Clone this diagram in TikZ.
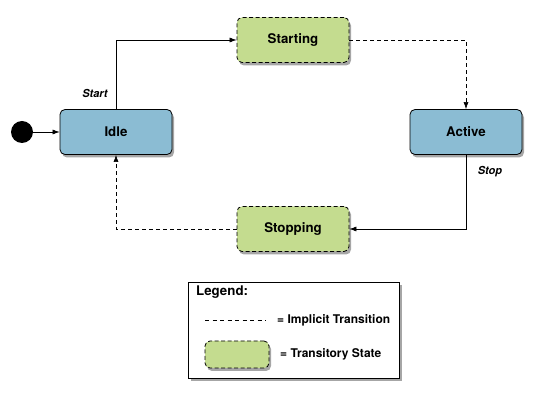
\documentclass[tikz,border=0pt]{standalone}
\usepackage{fontspec}
\setmainfont{TeX Gyre Heros}
\usepackage{tikz}
\usetikzlibrary{arrows.meta}
\usetikzlibrary{shadows}
\definecolor{stateblue}{HTML}{8BBCD3}
\definecolor{transgreen}{HTML}{C4DC8F}

\begin{document}
\begin{tikzpicture}[x=1pt,y=-1pt,
        shade/.style={drop shadow={shadow xshift=2pt,shadow yshift=-3pt,opacity=0.35,fill=black}},
        state/.style={draw,line width=0.8pt,rounded corners=5pt,fill=stateblue,shade,
            minimum width=112pt,minimum height=45pt,font=\fontsize{13.3}{15}\selectfont\bfseries},
        transitory/.style={state,fill=transgreen,dash pattern=on 4pt off 2.5pt},
        trans/.style={line width=0.6pt,-{Latex[length=7pt,width=5pt]}},
        implicit/.style={trans,dash pattern=on 4pt off 3pt},
        lbl/.style={font=\fontsize{11}{13}\selectfont\bfseries\itshape},
        legtext/.style={anchor=west,inner sep=0pt,font=\fontsize{12}{14}\selectfont\bfseries}]
        \useasboundingbox (0,0) rectangle (542,403);

        % states
        \fill (22,132) circle (11) coordinate (init);
        \node[state] (idle) at (116,132) {Idle};
        \node[transitory] (starting) at (293,40) {Starting};
        \node[state] (active) at (466,132) {Active};
        \node[transitory] (stopping) at (293,229) {Stopping};

        % transitions
        \draw[trans] (init) ++(11,0) coordinate (initr) -- (idle.west);
        \draw[trans] (idle.north) |- (starting.west);
        \draw[implicit] (starting.east) -| (active.north);
        \draw[trans] (active.south) |- (stopping.east);
        \draw[implicit] (stopping.west) -| (idle.south);
        \node[lbl] (startlbl) at (95,93) {Start};
        \node[lbl] (stoplbl) at (490,172) {Stop};

        % legend
        \node[draw,line width=0.8pt,fill=white,shade,minimum width=211pt,minimum height=96pt] (legend) at (294,330) {};
        \node[legtext,font=\fontsize{13.3}{15}\selectfont\bfseries] (legtitle) at (196,292) {Legend:};
        \coordinate (dasha) at (205,320);
        \coordinate (dashb) at (266,320);
        \draw[line width=0.6pt,dash pattern=on 4pt off 3.5pt] (dasha) -- (dashb);
        \node[legtext] (legimplicit) at (277,320) {= Implicit Transition};
        \node[transitory,minimum width=64pt,minimum height=27pt] (swatch) at (237,354.5) {};
        \node[legtext] (legtransitory) at (280,354) {= Transitory State};
\end{tikzpicture}
\end{document}
